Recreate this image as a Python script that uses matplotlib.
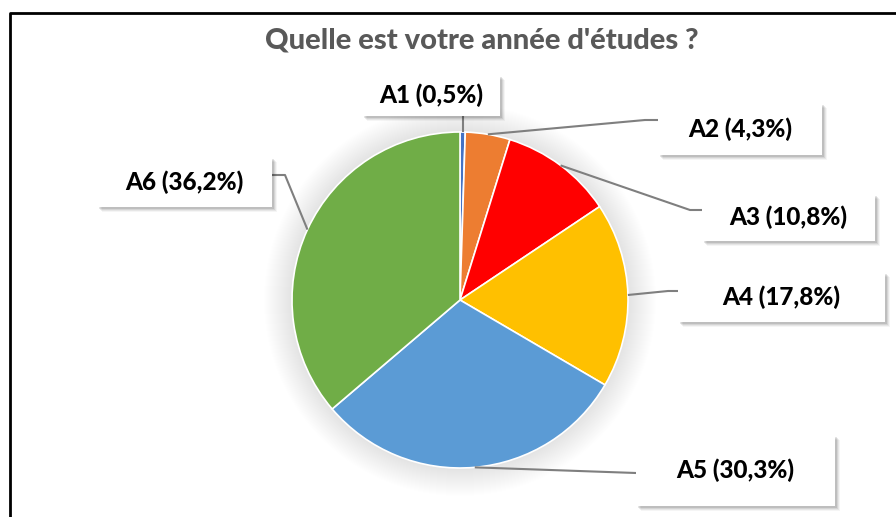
import matplotlib
matplotlib.use("Agg")
import matplotlib.pyplot as plt
import numpy as np
from matplotlib.patches import Rectangle, Circle

categories = ["A1", "A2", "A3", "A4", "A5", "A6"]
values = [0.5, 4.3, 10.8, 17.8, 30.3, 36.2]
labels = ["A1 (0,5%)", "A2 (4,3%)", "A3 (10,8%)", "A4 (17,8%)", "A5 (30,3%)", "A6 (36,2%)"]
colors = ["#4472C4", "#ED7D31", "#FF0000", "#FFC000", "#5B9BD5", "#70AD47"]
title = "Quelle est votre année d'études ?"

W, H = 896, 517
fig = plt.figure(figsize=(W / 100, H / 100), dpi=100)
ax = fig.add_axes([0, 0, 1, 1])

def Y(py):
    return H - py

cx, cy, R = 460, Y(300), 168

# soft glow around pie
for i in range(28, 0, -1):
    ax.add_patch(Circle((cx, cy), R + i, color="#000000", alpha=0.0035, lw=0, zorder=1))

wedges, _ = ax.pie(values, colors=colors, startangle=90, counterclock=False,
                   center=(cx, cy), radius=R, frame=True,
                   wedgeprops=dict(edgecolor="white", linewidth=1.2))
for w in wedges:
    w.set_zorder(3)
ax.set_xlim(0, W)
ax.set_ylim(0, H)
ax.set_aspect("auto")
ax.axis("off")

# chart border (left & top visible)
ax.plot([10, 10, W + 5], [Y(H + 5), Y(13), Y(13)], color="black", lw=2,
        solid_capstyle="butt", zorder=1)

# label boxes (pixel layout: left, top, right, bottom)
boxes = [
    (362, 75, 500, 116),
    (658, 103, 822, 155),
    (702, 194, 875, 241),
    (678, 272, 885, 322),
    (636, 435, 835, 506),
    (97, 157, 272, 207),
]
# elbow points and end points of leader lines (pixel coords)
elbows = [
    None,
    ((645, 120), (658, 120)),
    ((690, 210), (702, 210)),
    ((668, 291), (678, 291)),
    (None, (636, 473)),
    ((285, 175), (272, 175)),
]

total = sum(values)
cum = 0.0
for i, v in enumerate(values):
    mid = cum + v / 2
    cum += v
    ang = np.deg2rad(90 - 360 * mid / total)
    sx, sy = cx + R * np.cos(ang), cy + R * np.sin(ang)
    if elbows[i] is None:
        xs, ys = [sx, sx], [sy, Y(boxes[i][3])]
    else:
        e, end = elbows[i]
        pts = [(sx, sy)]
        if e is not None:
            pts.append((e[0], Y(e[1])))
        pts.append((end[0], Y(end[1])))
        xs, ys = zip(*pts)
    ax.plot(xs, ys, color="#7F7F7F", lw=1.5, zorder=4, solid_capstyle="butt")

for (l, t, r, b), lab in zip(boxes, labels):
    w, h = r - l, b - t
    for k, a in enumerate([0.10, 0.08, 0.06, 0.04]):
        off = 2 + k
        ax.add_patch(Rectangle((l + off, Y(b) - off), w, h, facecolor="black",
                               alpha=a, lw=0, zorder=5))
    ax.add_patch(Rectangle((l, Y(b)), w, h, facecolor="white", edgecolor="none", zorder=6))
    ax.text((l + r) / 2, Y((t + b) / 2), lab, ha="center", va="center",
            fontsize=17.5, fontweight="black", family=["Lato", "DejaVu Sans"],
            color="black", zorder=7)

ax.text(482, Y(40), title, ha="center", va="center", fontsize=21, fontweight="black",
        family=["Lato", "DejaVu Sans"], color="#595959", zorder=7)

fig.savefig("out.png", dpi=100)
